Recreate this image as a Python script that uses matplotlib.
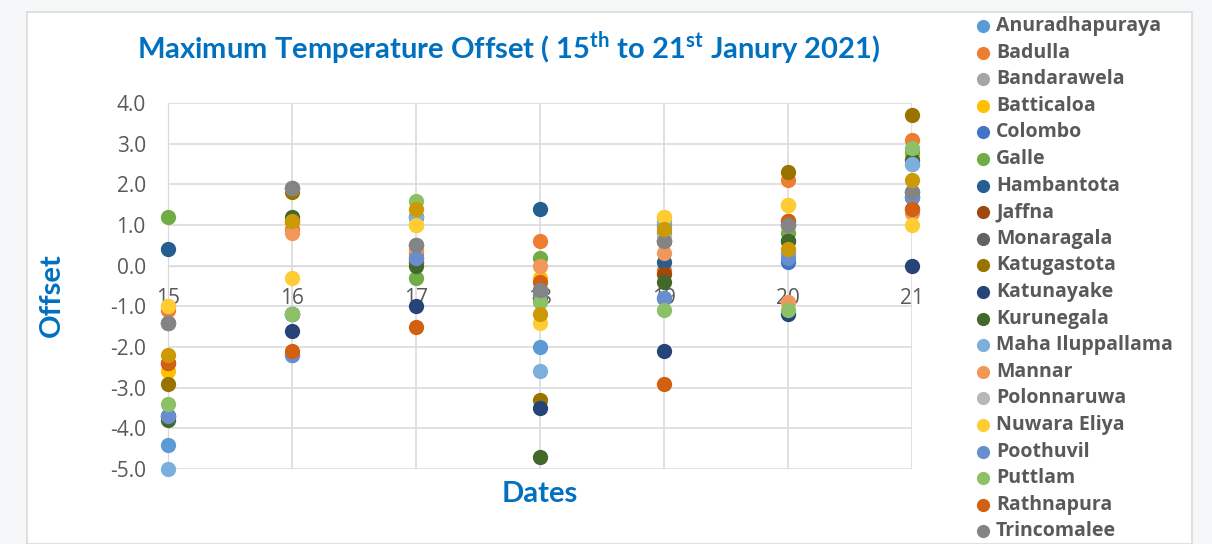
import matplotlib
matplotlib.use("Agg")
import matplotlib.pyplot as plt
from matplotlib.lines import Line2D
from matplotlib.patches import Rectangle

# ---------------- data ----------------
dates = [15, 16, 17, 18, 19, 20, 21]

stations = ["Anuradhapuraya", "Badulla", "Bandarawela", "Batticaloa", "Colombo",
            "Galle", "Hambantota", "Jaffna", "Monaragala", "Katugastota",
            "Katunayake", "Kurunegala", "Maha Iluppallama", "Mannar", "Polonnaruwa",
            "Nuwara Eliya", "Poothuvil", "Puttlam", "Rathnapura", "Trincomalee",
            "Vavuniya"]

colors = ["#5B9BD5", "#ED7D31", "#A5A5A5", "#FFC000", "#4472C4",
          "#70AD47", "#255E91", "#9E480E", "#636363", "#997300",
          "#264478", "#43682B", "#7CAFDD", "#F1975A", "#B7B7B7",
          "#FFCD33", "#698ED0", "#8CC168", "#D26012", "#848484",
          "#CC9A06"]

anuradhapuraya   = [-4.4, -1.2, 1.2, -2.0, 1.0, 0.3, 2.5]
badulla          = [-1.1, 0.9, 0.3, 0.6, -0.1, 2.1, 3.1]
bandarawela      = [-1.4, 1.9, 0.5, -0.6, 0.6, 1.0, 1.8]
batticaloa       = [-2.6, 1.1, 1.0, -0.3, 1.2, 1.5, 2.7]
colombo          = [-3.7, -2.2, 0.1, -0.8, -0.8, 0.1, 1.7]
galle            = [1.2, -1.2, -0.3, 0.2, 0.8, 0.8, 2.8]
hambantota       = [0.4, -1.2, 1.2, 1.4, 0.1, 0.6, 1.7]
jaffna           = [-2.4, 1.1, 0.2, -0.8, -0.2, 1.1, 1.4]
monaragala       = [-1.4, 1.9, 0.5, -0.6, 0.6, 1.0, 1.8]
katugastota      = [-2.9, 1.8, 0.1, -3.3, 0.6, 2.3, 3.7]
katunayake       = [-3.7, -1.6, -1.0, -3.5, -2.1, -1.2, 0.0]
kurunegala       = [-3.8, 1.2, 0.0, -4.7, -0.4, 0.6, 2.6]
maha_iluppallama = [-5.0, -1.2, 1.2, -2.6, 1.1, 0.3, 2.5]
mannar           = [-1.0, 0.8, 0.4, 0.0, 0.3, -0.9, 1.3]
polonnaruwa      = [-1.4, 1.9, 0.5, -0.6, 0.7, 1.0, 1.8]
nuwara_eliya     = [-1.0, -0.3, 1.0, -1.4, 1.2, 1.5, 1.0]
poothuvil        = [-3.7, -2.2, 0.2, -0.7, -0.8, 0.2, 1.7]
puttlam          = [-3.4, -1.2, 1.6, -0.9, -1.1, -1.1, 2.9]
rathnapura       = [-2.4, -2.1, -1.5, -0.4, -2.9, 1.1, 1.4]
trincomalee      = [-1.4, 1.9, 0.5, -0.6, 0.6, 1.0, 1.8]
vavuniya         = [-2.2, 1.1, 1.4, -1.2, 0.9, 0.4, 2.1]

series = [anuradhapuraya, badulla, bandarawela, batticaloa, colombo, galle,
          hambantota, jaffna, monaragala, katugastota, katunayake, kurunegala,
          maha_iluppallama, mannar, polonnaruwa, nuwara_eliya, poothuvil,
          puttlam, rathnapura, trincomalee, vavuniya]

yticks = [4.0, 3.0, 2.0, 1.0, 0.0, -1.0, -2.0, -3.0, -4.0, -5.0]
ytick_labels = ["%.1f" % v for v in yticks]

# ---------------- style ----------------
TITLE_FONT = "Lato"
BODY_FONT = "Open Sans"
plt.rcParams["font.family"] = [BODY_FONT, "DejaVu Sans"]
plt.rcParams["mathtext.fontset"] = "custom"
plt.rcParams["mathtext.rm"] = TITLE_FONT
plt.rcParams["mathtext.bf"] = TITLE_FONT + ":bold"

W, H = 1212, 544
fig = plt.figure(figsize=(W / 100, H / 100), dpi=100, facecolor="#F6F7F9")

# chart frame
fig.add_artist(Rectangle((27 / W, 0), (1192 - 27) / W, (H - 12) / H,
                         transform=fig.transFigure, facecolor="white",
                         edgecolor="#D9D9D9", linewidth=1.2, zorder=0))

ax = fig.add_axes([168 / W, 75 / H, (912 - 168) / W, (469 - 103) / H])
ax.set_facecolor("none")

for vals, col in zip(series, colors):
    ax.plot(dates, vals, linestyle="none", marker="o", markersize=11,
            color=col, markeredgewidth=0, clip_on=False, zorder=3)

ax.set_xlim(15, 21)
ax.set_ylim(-5, 4)
ax.set_yticks(yticks)
ax.set_yticklabels(ytick_labels)
ax.set_xticks(dates)
ax.set_xticklabels([str(d) for d in dates])

grid_c = "#D9D9D9"
ax.grid(True, color=grid_c, linewidth=1.1, zorder=0)
ax.set_axisbelow(True)
for s in ["top", "right"]:
    ax.spines[s].set_visible(False)
ax.spines["left"].set_color(grid_c)
ax.spines["bottom"].set_color(grid_c)
ax.spines["bottom"].set_position(("data", 0))
ax.tick_params(axis="both", length=0, labelcolor="#595959", labelsize=15)
ax.tick_params(axis="y", pad=16)
ax.tick_params(axis="x", pad=16)
for lab in ax.get_xticklabels():
    lab.set_zorder(5)

# title and axis titles
blue = "#0070C0"
fig.text(508 / W, 1 - 48 / H,
         r"Maximum Temperature Offset ( 15$^{\mathbf{th}}$ to 21$^{\mathbf{st}}$ Janury 2021)",
         ha="center", va="center", fontsize=21, fontweight="bold", color=blue,
         family=[TITLE_FONT, "DejaVu Sans"])
fig.text(52 / W, 1 - 295 / H, "Offset", rotation=90, ha="center", va="center",
         fontsize=21, fontweight="bold", color=blue,
         family=[TITLE_FONT, "DejaVu Sans"])
fig.text(540 / W, 1 - 494 / H, "Dates", ha="center", va="center",
         fontsize=21, fontweight="bold", color=blue,
         family=[TITLE_FONT, "DejaVu Sans"])

# legend (first 20 entries visible, as in the reference)
y0, dy = 26, 26.6
for i in range(20):
    y = 1 - (y0 + i * dy) / H
    fig.add_artist(Line2D([983 / W], [y], transform=fig.transFigure,
                          marker="o", markersize=9.5, color=colors[i],
                          markeredgewidth=0, linestyle="none"))
    fig.text(996 / W, y, stations[i], ha="left", va="center", fontsize=14,
             fontweight="bold", color="#595959")

fig.savefig("out.png", dpi=100, facecolor=fig.get_facecolor())
